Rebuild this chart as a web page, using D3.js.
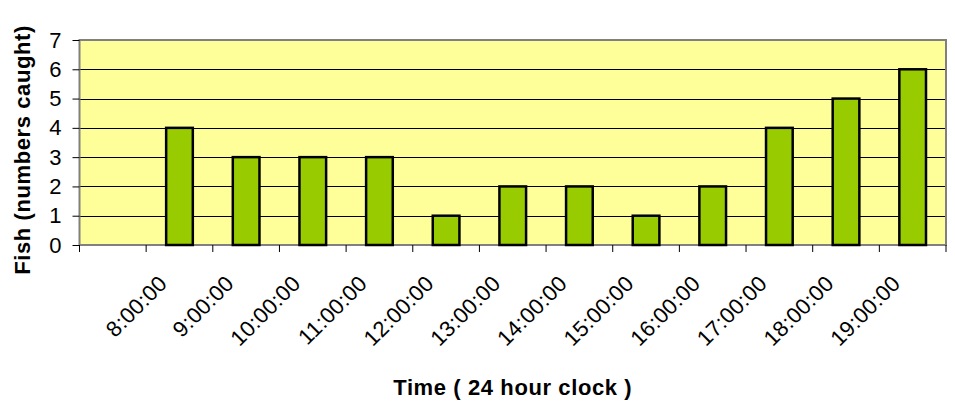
<!DOCTYPE html>
<html>
<head>
<meta charset="utf-8">
<script src="https://cdn.jsdelivr.net/npm/d3@7"></script>
<style>
  body { margin: 0; background: #fff; }
  text { font-family: "Liberation Sans", Arial, sans-serif; }
</style>
</head>
<body>
<div id="chart"></div>
<script>
// first slot is empty in the original sheet
var categories = ['', '8:00:00', '9:00:00', '10:00:00', '11:00:00', '12:00:00', '13:00:00',
    '14:00:00', '15:00:00', '16:00:00', '17:00:00', '18:00:00', '19:00:00'];
var fishCaught = [null, 4, 3, 3, 3, 1, 2, 2, 1, 2, 4, 5, 6];
var yTicks = [0, 1, 2, 3, 4, 5, 6, 7];

var width = 955, height = 413;
var margin = { top: 40, right: 9, bottom: 168, left: 79.5 };
var plotW = width - margin.left - margin.right,
    plotH = height - margin.top - margin.bottom;

var svg = d3.select('#chart').append('svg')
    .attr('width', width)
    .attr('height', height);

var g = svg.append('g')
    .attr('transform', 'translate(' + margin.left + ',' + margin.top + ')');

var x = d3.scaleBand().domain(categories).range([0, plotW]).paddingInner(0).paddingOuter(0);
var y = d3.scaleLinear().domain([0, 7]).range([plotH, 0]);

// plot background
g.append('rect')
    .attr('width', plotW).attr('height', plotH)
    .attr('fill', '#ffff99');

// gridlines
g.selectAll('line.grid')
    .data(yTicks.slice(1))
    .enter().append('line')
    .attr('class', 'grid')
    .attr('x1', 0).attr('x2', plotW)
    .attr('y1', d => Math.round(y(d)) + 0.5).attr('y2', d => Math.round(y(d)) + 0.5)
    .attr('stroke', '#000').attr('stroke-width', 1);

// frame
g.append('rect')
    .attr('width', plotW).attr('height', plotH)
    .attr('fill', 'none')
    .attr('stroke', '#808080').attr('stroke-width', 2);

// bars
var bw = x.bandwidth() * 0.4;
g.selectAll('rect.bar')
    .data(categories.map((c, i) => ({ c: c, v: fishCaught[i] })).filter(d => d.v != null))
    .enter().append('rect')
    .attr('class', 'bar')
    .attr('x', d => x(d.c) + x.bandwidth() / 2 - bw / 2)
    .attr('width', bw)
    .attr('y', d => y(d.v))
    .attr('height', d => y(0) - y(d.v))
    .attr('fill', '#99cc00')
    .attr('stroke', '#000').attr('stroke-width', 2.5);

// y axis
var yAxis = g.append('g')
    .call(d3.axisLeft(y).tickValues(yTicks).tickSize(7).tickPadding(11).tickFormat(d3.format('d')));
yAxis.select('.domain').remove();
yAxis.selectAll('line').attr('stroke', '#000');
yAxis.selectAll('text')
    .style('font-size', '22px')
    .attr('fill', '#000');

// x axis ticks at category boundaries
var bounds = categories.map(c => x(c)).concat([plotW]);
g.selectAll('line.xtick')
    .data(bounds)
    .enter().append('line')
    .attr('class', 'xtick')
    .attr('x1', d => d).attr('x2', d => d)
    .attr('y1', plotH).attr('y2', plotH + 7)
    .attr('stroke', '#000');

// x labels
g.selectAll('text.xlab')
    .data(categories.filter(c => c !== ''))
    .enter().append('text')
    .attr('class', 'xlab')
    .attr('transform', d => 'translate(' + (x(d) + x.bandwidth() / 2 - 11) + ',' + (plotH + 40) + ') rotate(-45)')
    .attr('text-anchor', 'end')
    .style('font-size', '22px')
    .style('letter-spacing', '0.3px')
    .text(d => d);

// axis titles
svg.append('text')
    .attr('x', margin.left + plotW / 2).attr('y', 395)
    .attr('text-anchor', 'middle')
    .style('font-size', '22px').style('font-weight', 'bold')
    .style('letter-spacing', '0.6px')
    .text('Time ( 24 hour clock )');

svg.append('text')
    .attr('transform', 'translate(30,150) rotate(-90)')
    .attr('text-anchor', 'middle')
    .style('font-size', '22px').style('font-weight', 'bold')
    .style('letter-spacing', '0.6px')
    .text('Fish (numbers caught)');
</script>
</body>
</html>
